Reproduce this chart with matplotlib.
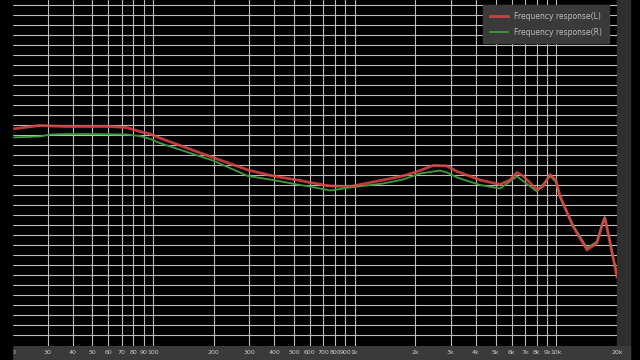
import numpy as np
import matplotlib
matplotlib.use("Agg")
import matplotlib.pyplot as plt
from matplotlib.patches import Rectangle

# frequency response (Hz, dB)
freq_L = [20, 27.5, 31, 37.5, 49, 61, 74, 86, 97, 108, 198, 296, 394, 536, 601, 755, 949,
          1384, 1739, 2110, 2450, 2870, 3220, 4190, 5260, 5890, 6380, 6840, 8020, 8590, 9310,
          9960, 10430, 12100, 14200, 15900, 17060, 17400, 17830, 20000]
db_L = [15.2, 15.9, 15.8, 15.7, 15.7, 15.7, 15.5, 14.7, 14.2, 13.4, 9.5, 7.0, 5.8, 4.9, 4.5, 3.8, 3.7,
        5.0, 5.8, 6.9, 7.9, 7.8, 6.7, 5.0, 4.1, 5.0, 6.5, 5.8, 3.1, 3.7, 6.1,
        5.0, 1.8, -4.3, -9.0, -7.6, -3.4, -2.6, -4.6, -14.4]

freq_R = [20, 27.5, 31, 37.5, 49, 74, 86, 97, 108, 198, 296, 394, 536, 601, 755, 949,
          1384, 1739, 2110, 2650, 2870, 3220, 4190, 5260, 6380, 8020, 9310,
          9960, 10430, 12100, 14200, 15900, 17060, 17400, 17830, 20000]
db_R = [13.5, 13.7, 14.1, 14.2, 14.2, 14.1, 13.8, 13.2, 12.4, 8.9, 5.8, 5.0, 4.0, 3.7, 2.9, 3.5,
        4.3, 5.1, 6.3, 6.9, 6.5, 5.5, 4.0, 3.3, 5.7, 2.7, 5.8,
        4.6, 1.6, -4.0, -8.6, -7.3, -3.1, -2.4, -4.3, -14.0]

xticks = [20, 30, 40, 50, 60, 70, 80, 90, 100, 200, 300, 400, 500, 600, 700, 800, 900,
          1000, 2000, 3000, 4000, 5000, 6000, 7000, 8000, 9000, 10000, 20000]
xlabels = ["20", "30", "40", "50", "60", "70", "80", "90", "100", "200", "300", "400", "500",
           "600", "700", "800", "900", "1k", "2k", "3k", "4k", "5k", "6k", "7k", "8k", "9k",
           "10k", "20k"]

W, H = 640, 360
fig = plt.figure(figsize=(6.4, 3.6), dpi=100, facecolor="black")
ax = fig.add_axes([12 / W, 14 / H, 605 / W, 346 / H])
ax.set_facecolor("black")

# side strips and label band
fig.patches.append(Rectangle((617 / W, 0), 13 / W, 1, transform=fig.transFigure,
                             color="#2e2e2e", zorder=-1))
fig.patches.append(Rectangle((12 / W, 0), 618 / W, 14 / H, transform=fig.transFigure,
                             color="#3a3a3a", zorder=-1))
fig.patches.append(Rectangle((0, 0), 12 / W, 1, transform=fig.transFigure,
                             color="black", zorder=10))

ax.plot(freq_R, db_R, color="#3c9a3c", lw=1.3, label="Frequency response(R)", zorder=3)
ax.plot(freq_L, db_L, color="#e04545", lw=2.0, alpha=0.85, label="Frequency response(L)", zorder=4)

ax.set_xscale("log")
ax.set_xlim(20, 20000)
ax.set_ylim(-28.2, 41)
ax.set_xticks(xticks)
ax.set_xticklabels(xlabels)
ax.xaxis.set_minor_locator(matplotlib.ticker.NullLocator())
ax.set_yticks(np.arange(-26, 41, 2))
ax.tick_params(axis="y", length=0, labelleft=False)
ax.tick_params(axis="x", length=0, pad=3, labelsize=4.5, labelcolor="#cccccc")
ax.grid(True, color="#bdbdbd", lw=0.8)
ax.set_axisbelow(True)
for s in ax.spines.values():
    s.set_visible(False)

h, l = ax.get_legend_handles_labels()
leg = ax.legend(h[::-1], l[::-1], loc="upper right", bbox_to_anchor=(0.987, 0.986),
                borderaxespad=0, fontsize=5.5, facecolor="#3a3a3a", edgecolor="#3a3a3a",
                framealpha=1, fancybox=False, labelcolor="#bbbbbb", handlelength=2.4,
                labelspacing=0.9, borderpad=0.9)
leg.set_zorder(6)

fig.savefig("out.png", dpi=100, facecolor="black")
